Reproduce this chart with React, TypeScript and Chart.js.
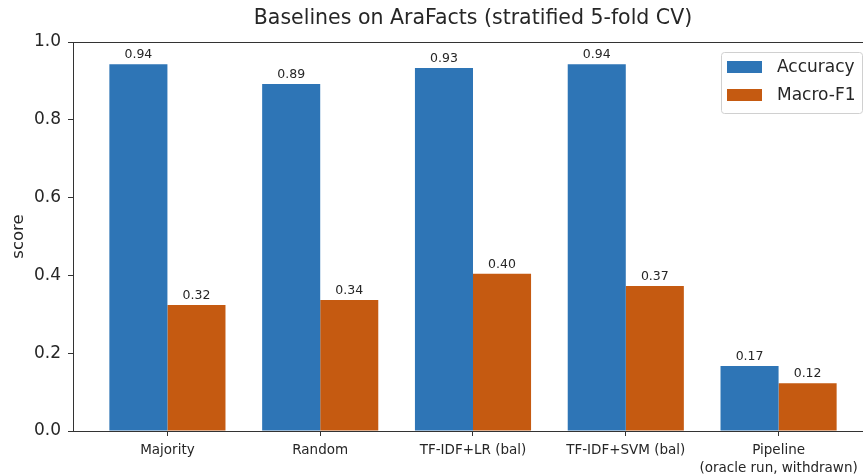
import { useEffect, useRef } from "react";
import { Chart, registerables } from "chart.js";

Chart.register(...registerables);

const categories: string[][] = [
  ["Majority"],
  ["Random"],
  ["TF-IDF+LR (bal)"],
  ["TF-IDF+SVM (bal)"],
  ["Pipeline", "(oracle run, withdrawn)"],
];
const accuracy = [0.943, 0.892, 0.933, 0.943, 0.167];
const macroF1 = [0.324, 0.337, 0.404, 0.373, 0.123];
const seriesNames = ["Accuracy", "Macro-F1"];
const seriesColors = ["#2E75B6", "#C55A11"];
const yTickValues = [0, 0.2, 0.4, 0.6, 0.8, 1.0];

const FONT = "'DejaVu Sans', sans-serif";
const TEXT = "#262626";
const SPINE = "#333333";

const framePlugin = {
  id: "frame",
  afterDraw(chart: any) {
    const { ctx, chartArea: a } = chart;
    ctx.save();
    ctx.strokeStyle = SPINE;
    ctx.lineWidth = 1;
    ctx.strokeRect(Math.round(a.left) + 0.5, Math.round(a.top) + 0.5, Math.round(a.right - a.left), Math.round(a.bottom - a.top));
    ctx.restore();
  },
};

const valueLabelPlugin = {
  id: "valueLabels",
  afterDatasetsDraw(chart: any) {
    const { ctx } = chart;
    ctx.save();
    ctx.font = `12.5px ${FONT}`;
    ctx.fillStyle = TEXT;
    ctx.textAlign = "center";
    ctx.textBaseline = "alphabetic";
    chart.data.datasets.forEach((ds: any, di: number) => {
      const meta = chart.getDatasetMeta(di);
      meta.data.forEach((bar: any, i: number) => {
        const v = ds.data[i].y;
        ctx.fillText(v.toFixed(2), bar.x, bar.y - 6);
      });
    });
    ctx.restore();
  },
};

const legendPlugin = {
  id: "insideLegend",
  afterDraw(chart: any) {
    const { ctx, chartArea: a } = chart;
    const w = 141;
    const h = 61;
    const x = a.right - 11 - w;
    const y = a.top + 10;
    ctx.save();
    ctx.fillStyle = "rgba(255,255,255,0.85)";
    ctx.strokeStyle = "#d0d0d0";
    ctx.lineWidth = 1;
    ctx.beginPath();
    (ctx as any).roundRect(x + 0.5, y + 0.5, w, h, 3);
    ctx.fill();
    ctx.stroke();
    ctx.font = `17px ${FONT}`;
    ctx.textBaseline = "middle";
    ctx.textAlign = "left";
    chart.data.datasets.forEach((ds: any, i: number) => {
      const cy = y + 15 + i * 28;
      ctx.fillStyle = ds.backgroundColor;
      ctx.fillRect(x + 6, cy - 6, 35, 12);
      ctx.fillStyle = TEXT;
      ctx.fillText(ds.label, x + 56, cy + 1);
    });
    ctx.restore();
  },
};

export default function App() {
  const ref = useRef<HTMLCanvasElement | null>(null);

  useEffect(() => {
    if (!ref.current) return;
    const chart = new Chart(ref.current, {
      type: "bar",
      data: {
        datasets: [accuracy, macroF1].map((vals, si) => ({
          label: seriesNames[si],
          data: vals.map((v, i) => ({ x: i, y: v })),
          backgroundColor: seriesColors[si],
          borderWidth: 0,
          categoryPercentage: 0.76,
          barPercentage: 1.0,
        })),
      },
      options: {
        animation: false,
        responsive: false,
        layout: { padding: { left: 0, right: 27, top: 0, bottom: 0 } },
        plugins: {
          legend: { display: false },
          tooltip: { enabled: false },
          title: {
            display: true,
            text: "Baselines on AraFacts (stratified 5-fold CV)",
            fullSize: false,
            color: TEXT,
            font: { family: FONT, size: 20.5, weight: "normal" },
            padding: { top: 6, bottom: 11.4 },
          },
        },
        scales: {
          x: {
            type: "linear",
            min: -0.618,
            max: categories.length - 1 + 0.618,
            bounds: "data",
            offset: false,
            afterBuildTicks: (scale: any) => {
              scale.ticks = categories.map((_, i) => ({ value: i }));
            },
            afterFit: (scale: any) => {
              scale.height = 45;
            },
            grid: {
              display: true,
              offset: false,
              drawOnChartArea: false,
              drawTicks: true,
              tickLength: 5,
              tickColor: SPINE,
            },
            border: { display: false },
            ticks: {
              autoSkip: false,
              maxRotation: 0,
              padding: 6,
              color: TEXT,
              font: { family: FONT, size: 13.5, lineHeight: 1.3 },
              callback: (v: any) => categories[Math.round(Number(v))] ?? "",
            },
          },
          y: {
            type: "linear",
            min: 0,
            max: 1,
            afterBuildTicks: (scale: any) => {
              scale.ticks = yTickValues.map((v) => ({ value: v }));
            },
            afterFit: (scale: any) => {
              scale.width = 73;
            },
            grid: {
              display: true,
              drawOnChartArea: false,
              drawTicks: true,
              tickLength: 5,
              tickColor: SPINE,
            },
            border: { display: false },
            title: {
              display: true,
              text: "score",
              color: TEXT,
              font: { family: FONT, size: 16.5 },
              padding: { top: 9, bottom: 0 },
            },
            ticks: {
              padding: 7,
              color: TEXT,
              font: { family: FONT, size: 17 },
              callback: (v: any) => Number(v).toFixed(1),
            },
          },
        },
      },
      plugins: [framePlugin, valueLabelPlugin, legendPlugin],
    } as any);
    return () => chart.destroy();
  }, []);

  return (
    <div
      style={{
        position: "fixed",
        left: 0,
        top: 0,
        width: 863,
        height: 476,
        overflow: "hidden",
        background: "#fff",
      }}
    >
      <canvas ref={ref} width={900} height={476} style={{ width: 900, height: 476, display: "block" }} />
    </div>
  );
}
